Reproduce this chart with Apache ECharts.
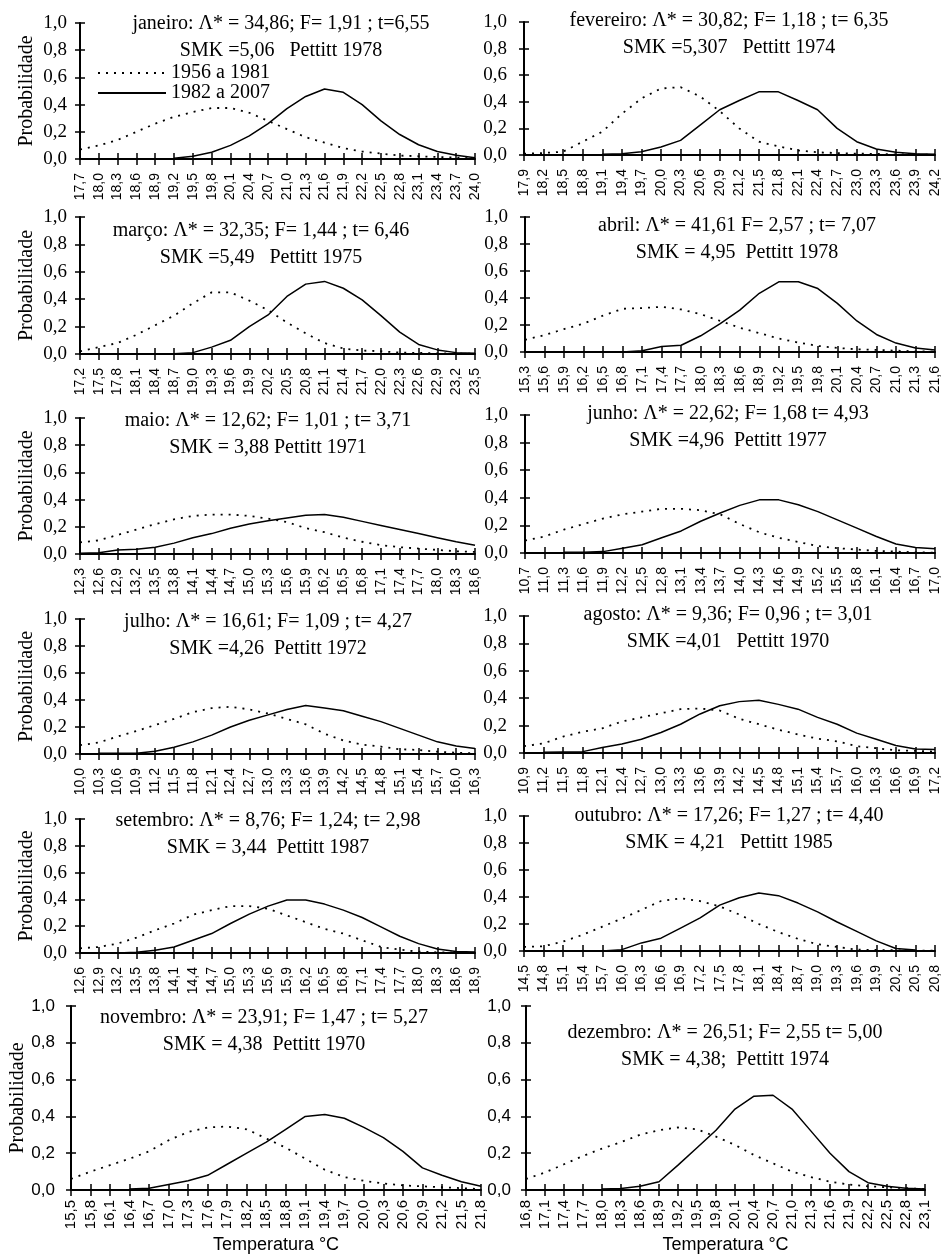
<!DOCTYPE html>
<html><head><meta charset="utf-8">
<script src="https://cdn.jsdelivr.net/npm/echarts@6/dist/echarts.min.js"></script>
<style>html,body{margin:0;padding:0;background:#fff}#c{width:946px;height:1257px}</style>
</head><body><div id="c"></div><script>
// ---------- DATA ----------
const catJan = ['17,7','18,0','18,3','18,6','18,9','19,2','19,5','19,8','20,1','20,4','20,7','21,0','21,3','21,6','21,9','22,2','22,5','22,8','23,1','23,4','23,7','24,0'];
const catFev = ['17,9','18,2','18,5','18,8','19,1','19,4','19,7','20,0','20,3','20,6','20,9','21,2','21,5','21,8','22,1','22,4','22,7','23,0','23,3','23,6','23,9','24,2'];
const catMar = ['17,2','17,5','17,8','18,1','18,4','18,7','19,0','19,3','19,6','19,9','20,2','20,5','20,8','21,1','21,4','21,7','22,0','22,3','22,6','22,9','23,2','23,5'];
const catAbr = ['15,3','15,6','15,9','16,2','16,5','16,8','17,1','17,4','17,7','18,0','18,3','18,6','18,9','19,2','19,5','19,8','20,1','20,4','20,7','21,0','21,3','21,6'];
const catMai = ['12,3','12,6','12,9','13,2','13,5','13,8','14,1','14,4','14,7','15,0','15,3','15,6','15,9','16,2','16,5','16,8','17,1','17,4','17,7','18,0','18,3','18,6'];
const catJun = ['10,7','11,0','11,3','11,6','11,9','12,2','12,5','12,8','13,1','13,4','13,7','14,0','14,3','14,6','14,9','15,2','15,5','15,8','16,1','16,4','16,7','17,0'];
const catJul = ['10,0','10,3','10,6','10,9','11,2','11,5','11,8','12,1','12,4','12,7','13,0','13,3','13,6','13,9','14,2','14,5','14,8','15,1','15,4','15,7','16,0','16,3'];
const catAgo = ['10,9','11,2','11,5','11,8','12,1','12,4','12,7','13,0','13,3','13,6','13,9','14,2','14,5','14,8','15,1','15,4','15,7','16,0','16,3','16,6','16,9','17,2'];
const catSet = ['12,6','12,9','13,2','13,5','13,8','14,1','14,4','14,7','15,0','15,3','15,6','15,9','16,2','16,5','16,8','17,1','17,4','17,7','18,0','18,3','18,6','18,9'];
const catOut = ['14,5','14,8','15,1','15,4','15,7','16,0','16,3','16,6','16,9','17,2','17,5','17,8','18,1','18,4','18,7','19,0','19,3','19,6','19,9','20,2','20,5','20,8'];
const catNov = ['15,5','15,8','16,1','16,4','16,7','17,0','17,3','17,6','17,9','18,2','18,5','18,8','19,1','19,4','19,7','20,0','20,3','20,6','20,9','21,2','21,5','21,8'];
const catDez = ['16,8','17,1','17,4','17,7','18,0','18,3','18,6','18,9','19,2','19,5','19,8','20,1','20,4','20,7','21,0','21,3','21,6','21,9','22,2','22,5','22,8','23,1'];

// 1956 a 1981 (dotted)
const dotJan = [0.07,0.10,0.14,0.20,0.26,0.31,0.345,0.375,0.375,0.34,0.28,0.22,0.16,0.12,0.08,0.055,0.04,0.025,0.02,0.015,0.01,0.005];
const dotFev = [0.01,0.015,0.025,0.10,0.175,0.31,0.425,0.50,0.51,0.44,0.33,0.20,0.10,0.065,0.035,0.02,0.015,0.01,0.008,0.005,0.003,0.002];
const dotMar = [0.02,0.05,0.08,0.14,0.21,0.28,0.37,0.45,0.45,0.39,0.32,0.23,0.15,0.08,0.04,0.025,0.02,0.01,0.008,0.005,0.003,0.002];
const dotAbr = [0.09,0.125,0.17,0.21,0.27,0.32,0.325,0.335,0.315,0.28,0.23,0.18,0.14,0.10,0.07,0.045,0.03,0.02,0.015,0.01,0.005,0.003];
const dotMai = [0.085,0.10,0.14,0.18,0.22,0.255,0.28,0.29,0.29,0.28,0.26,0.235,0.19,0.16,0.12,0.09,0.065,0.05,0.04,0.03,0.02,0.015];
const dotJun = [0.09,0.12,0.17,0.21,0.25,0.28,0.30,0.32,0.32,0.31,0.28,0.21,0.15,0.11,0.08,0.05,0.035,0.025,0.015,0.01,0.005,0.003];
const dotJul = [0.065,0.085,0.13,0.17,0.215,0.26,0.31,0.34,0.35,0.33,0.30,0.26,0.22,0.15,0.10,0.07,0.055,0.035,0.03,0.017,0.01,0.005];
const dotAgo = [0.05,0.07,0.12,0.155,0.18,0.23,0.26,0.29,0.32,0.325,0.31,0.25,0.21,0.17,0.135,0.105,0.085,0.05,0.035,0.02,0.015,0.01];
const dotSet = [0.035,0.045,0.07,0.115,0.17,0.22,0.285,0.32,0.35,0.35,0.33,0.28,0.23,0.18,0.145,0.095,0.045,0.025,0.01,0.005,0.003,0.002];
const dotOut = [0.03,0.035,0.07,0.12,0.18,0.24,0.305,0.37,0.39,0.37,0.33,0.27,0.20,0.14,0.09,0.05,0.03,0.01,0.008,0.005,0.003,0.002];
const dotNov = [0.06,0.10,0.135,0.17,0.21,0.27,0.315,0.34,0.345,0.33,0.28,0.23,0.17,0.11,0.07,0.05,0.035,0.025,0.02,0.015,0.01,0.005];
const dotDez = [0.06,0.095,0.14,0.185,0.225,0.26,0.30,0.325,0.34,0.33,0.29,0.245,0.19,0.145,0.10,0.07,0.045,0.03,0.02,0.015,0.01,0.005];

// 1982 a 2007 (solid)
const solJan = [null,null,null,null,null,0.005,0.02,0.05,0.10,0.17,0.26,0.37,0.46,0.515,0.49,0.40,0.28,0.18,0.105,0.055,0.027,0.01];
const solFev = [null,null,null,null,0.005,0.01,0.025,0.06,0.11,0.225,0.34,0.41,0.475,0.475,0.41,0.34,0.20,0.10,0.045,0.02,0.01,0.005];
const solMar = [null,null,null,null,null,0.002,0.01,0.05,0.10,0.20,0.285,0.42,0.51,0.53,0.48,0.395,0.28,0.16,0.07,0.03,0.01,0.005];
const solAbr = [null,null,null,null,null,0.0,0.01,0.04,0.05,0.12,0.21,0.31,0.435,0.52,0.52,0.47,0.36,0.23,0.13,0.066,0.03,0.015];
const solMai = [0.005,0.01,0.03,0.035,0.05,0.08,0.12,0.15,0.19,0.22,0.245,0.265,0.285,0.29,0.27,0.24,0.21,0.18,0.15,0.12,0.09,0.065];
const solJun = [null,null,0.005,0.005,0.01,0.035,0.06,0.11,0.16,0.23,0.29,0.345,0.385,0.385,0.35,0.30,0.24,0.18,0.12,0.065,0.04,0.03];
const solJul = [null,0.005,0.005,0.005,0.02,0.05,0.09,0.14,0.20,0.25,0.29,0.33,0.36,0.34,0.32,0.28,0.24,0.19,0.14,0.09,0.06,0.04];
const solAgo = [null,0.005,0.008,0.01,0.04,0.065,0.10,0.15,0.21,0.285,0.345,0.375,0.385,0.355,0.32,0.26,0.21,0.145,0.10,0.055,0.03,0.025];
const solSet = [null,null,0.0,0.005,0.02,0.045,0.095,0.145,0.22,0.29,0.35,0.395,0.395,0.365,0.32,0.265,0.195,0.125,0.07,0.03,0.012,0.008];
const solOut = [null,null,null,null,0.0,0.01,0.06,0.095,0.17,0.245,0.34,0.395,0.43,0.41,0.355,0.29,0.215,0.145,0.075,0.018,0.008,null];
const solNov = [null,null,null,0.005,0.01,0.03,0.05,0.08,0.14,0.20,0.26,0.33,0.40,0.41,0.39,0.34,0.285,0.21,0.12,0.08,0.045,0.02];
const solDez = [null,null,null,null,0.005,0.008,0.02,0.045,0.135,0.23,0.325,0.44,0.51,0.515,0.44,0.32,0.20,0.10,0.04,0.02,0.01,0.005];

const yTicks = [0, 0.2, 0.4, 0.6, 0.8, 1.0];
const seriesNames = ['1956 a 1981', '1982 a 2007'];
const yName = 'Probabilidade';
const xName = 'Temperatura °C';

const titles1 = [
  'janeiro: Λ* = 34,86; F= 1,91 ; t=6,55',
  'fevereiro: Λ* = 30,82; F= 1,18 ; t= 6,35',
  'março: Λ* = 32,35; F= 1,44 ; t= 6,46',
  'abril: Λ* = 41,61 F= 2,57 ; t= 7,07',
  'maio: Λ* = 12,62; F= 1,01 ; t= 3,71',
  'junho: Λ* = 22,62; F= 1,68 t= 4,93',
  'julho: Λ* = 16,61; F= 1,09 ; t= 4,27',
  'agosto: Λ* = 9,36; F= 0,96 ; t= 3,01',
  'setembro: Λ* = 8,76; F= 1,24; t= 2,98',
  'outubro: Λ* = 17,26; F= 1,27 ; t= 4,40',
  'novembro: Λ* = 23,91; F= 1,47 ; t= 5,27',
  'dezembro: Λ* = 26,51; F= 2,55 t= 5,00'
];
const titles2 = [
  'SMK =5,06   Pettitt 1978',
  'SMK =5,307   Pettitt 1974',
  'SMK =5,49   Pettitt 1975',
  'SMK = 4,95  Pettitt 1978',
  'SMK = 3,88 Pettitt 1971',
  'SMK =4,96  Pettitt 1977',
  'SMK =4,26  Pettitt 1972',
  'SMK =4,01   Pettitt 1970',
  'SMK = 3,44  Pettitt 1987',
  'SMK = 4,21   Pettitt 1985',
  'SMK = 4,38  Pettitt 1970',
  'SMK = 4,38;  Pettitt 1974'
];

const cats = [catJan,catFev,catMar,catAbr,catMai,catJun,catJul,catAgo,catSet,catOut,catNov,catDez];
const dots = [dotJan,dotFev,dotMar,dotAbr,dotMai,dotJun,dotJul,dotAgo,dotSet,dotOut,dotNov,dotDez];
const sols = [solJan,solFev,solMar,solAbr,solMai,solJun,solJul,solAgo,solSet,solOut,solNov,solDez];

// ---------- LAYOUT ----------
const layout = [
  {l:80, t:23,  w:395, h:136, cx:281, ty:10.5},
  {l:524,t:22,  w:411, h:133, cx:729, ty:7.5},
  {l:80, t:217, w:395, h:137, cx:261, ty:217.5},
  {l:525,t:217, w:410, h:135, cx:737, ty:212.5},
  {l:80, t:418, w:395, h:136, cx:268, ty:407.5},
  {l:525,t:415, w:410, h:138, cx:728, ty:400.5},
  {l:80, t:619, w:395, h:135, cx:268, ty:608.5},
  {l:524,t:616, w:411, h:137, cx:728, ty:601.5},
  {l:80, t:819, w:395, h:134, cx:268, ty:807.5},
  {l:524,t:816, w:411, h:135, cx:729, ty:802.5},
  {l:71, t:1006,w:410, h:184, cx:264, ty:1004.5},
  {l:526,t:1006,w:399, h:184, cx:725, ty:1019.5}
];

const SERIF = 'Liberation Serif';
const SANS = 'Liberation Sans';
const grid = [], xAxis = [], yAxis = [], series = [], title = [], graphic = [];

cats.forEach((cat, i) => {
  const L = layout[i];
  const bottomRow = i >= 10;
  const leftCol = i % 2 === 0;
  grid.push({left:L.l, top:L.t, width:L.w, height:L.h, containLabel:false, outerBoundsMode:'none'});
  const xMain = {
    gridIndex:i, type:'category', data:cat, boundaryGap:false, position:'bottom',
    axisLine:{onZero:false, lineStyle:{color:'#000', width:2}},
    axisTick:{show:true, length:6, alignWithLabel:true, interval:0, lineStyle:{color:'#000', width:1.5}},
    axisLabel:{interval:0, rotate:90, margin: bottomRow ? 10 : 14, color:'#000', fontFamily:SANS, fontSize: bottomRow ? 15 : 14},
    splitLine:{show:false}
  };
  if (bottomRow) {
    xMain.name = xName; xMain.nameLocation = 'middle'; xMain.nameGap = 46; xMain.nameMoveOverlap = false;
    xMain.nameTextStyle = {fontFamily:SANS, fontSize:18, color:'#000'};
  }
  xAxis.push(xMain);
  xAxis.push({
    gridIndex:i, type:'category', data:cat, boundaryGap:false, position:'bottom',
    axisLine:{show:false}, axisTick:{show:true, inside:true, length:6, interval:0, lineStyle:{color:'#000', width:1.5}},
    axisLabel:{show:false}, splitLine:{show:false}
  });
  yAxis.push({
    gridIndex:i, type:'value', min:yTicks[0], max:yTicks[yTicks.length-1], interval:yTicks[1]-yTicks[0], position:'left',
    axisLine:{show:true, lineStyle:{color:'#000', width:2}},
    axisTick:{show:true, length:5, lineStyle:{color:'#000', width:1.5}},
    axisLabel:{color:'#000', fontFamily: bottomRow ? SANS : SERIF, fontSize: bottomRow ? 17 : 19,
      margin: bottomRow ? (leftCol ? 16 : 15) : (leftCol ? 13 : 17),
      formatter: v => v.toFixed(1).replace('.', ',')},
    splitLine:{show:false}
  });
  yAxis.push({
    gridIndex:i, type:'value', min:yTicks[0], max:yTicks[yTicks.length-1], interval:yTicks[1]-yTicks[0], position:'left',
    axisLine:{show:false}, axisTick:{show:true, inside:true, length:5, lineStyle:{color:'#000', width:1.5}},
    axisLabel:{show:false}, splitLine:{show:false}
  });
  if (leftCol) {
    graphic.push({
      type:'text', x: bottomRow ? 18 : 27, y: L.t + L.h / 2, rotation: Math.PI / 2,
      style:{text: yName, fontFamily: SERIF, fontSize: 20, fill:'#000', align:'center', verticalAlign:'middle'}
    });
  }
  series.push({
    type:'line', name:seriesNames[0], xAxisIndex:2*i, yAxisIndex:2*i, data:dots[i],
    showSymbol:false, symbol:'none', connectNulls:false, z:3,
    lineStyle:{color:'#000', width:1.8, type:[2,6]}, itemStyle:{color:'#000'}
  });
  series.push({
    type:'line', name:seriesNames[1], xAxisIndex:2*i, yAxisIndex:2*i, data:sols[i],
    showSymbol:false, symbol:'none', connectNulls:false, z:4,
    lineStyle:{color:'#000', width:1.5, type:'solid'}, itemStyle:{color:'#000'}
  });
  title.push({
    text: titles1[i] + '\n' + titles2[i], left:L.cx, top:L.ty, textAlign:'center', padding:0,
    textStyle:{fontFamily:SERIF, fontSize:20, fontWeight:'normal', color:'#000', lineHeight:27}
  });
});

const chart = echarts.init(document.getElementById('c'), null, {renderer:'canvas'});
chart.setOption({
  animation:false,
  backgroundColor:'#fff',
  title, grid, xAxis, yAxis, series, graphic,
  legend:{
    left:97, top:63, orient:'vertical', padding:0, itemGap:0, itemWidth:68, itemHeight:20,
    selectedMode:false, data:seriesNames,
    itemStyle:{opacity:0, borderWidth:0},
    textStyle:{fontFamily:SERIF, fontSize:20, color:'#000', lineHeight:20}
  }
});
</script></body></html>
